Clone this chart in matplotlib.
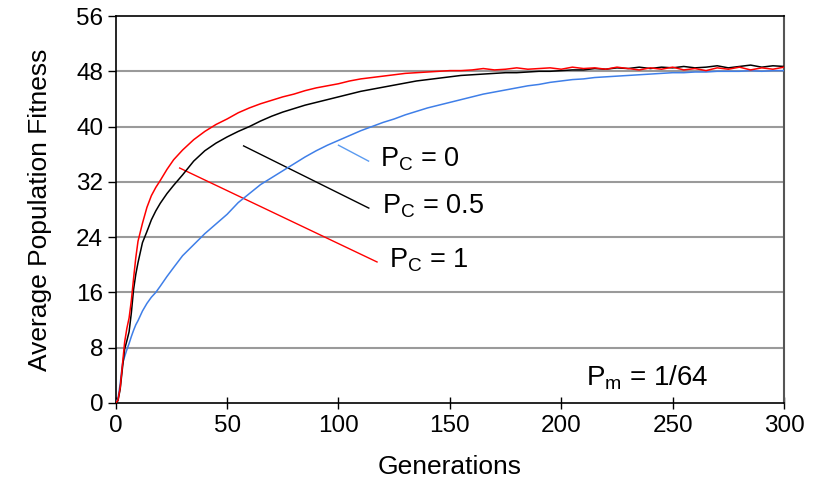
import matplotlib
matplotlib.use("Agg")
import matplotlib.pyplot as plt

plt.rcParams['font.family'] = ['Liberation Sans', 'DejaVu Sans']
plt.rcParams['mathtext.fontset'] = 'custom'
plt.rcParams['mathtext.rm'] = 'Liberation Sans'
plt.rcParams['mathtext.it'] = 'Liberation Sans'

gens = [0, 1, 2, 3, 4, 5, 6, 7, 8, 9, 10, 12, 14, 16, 18, 20, 23, 26, 30, 35, 40, 45,
        50, 55, 60, 65, 70, 75, 80, 85, 90, 95, 100, 105, 110, 115, 120, 125, 130, 135,
        140, 145, 150, 155, 160, 165, 170, 175, 180, 185, 190, 195, 200, 205, 210, 215,
        220, 225, 230, 235, 240, 245, 250, 255, 260, 265, 270, 275, 280, 285, 290, 295, 300]

# crossover probability 1
fit_pc1 = [0, 0.4, 2.2, 5.5, 8.8, 10.8, 12.3, 14.8, 18.0, 21.0, 23.4, 26.0, 28.3, 30.0, 31.2,
           32.2, 33.8, 35.2, 36.6, 38.1, 39.3, 40.3, 41.1, 42.0, 42.7, 43.3, 43.8, 44.3,
           44.7, 45.2, 45.6, 45.9, 46.2, 46.6, 46.9, 47.1, 47.3, 47.5, 47.7, 47.8, 47.9,
           48.0, 48.1, 48.1, 48.2, 48.4, 48.2, 48.3, 48.5, 48.3, 48.4, 48.5, 48.3, 48.6,
           48.4, 48.5, 48.3, 48.6, 48.4, 48.2, 48.5, 48.3, 48.6, 48.2, 48.4, 48.1, 48.5,
           48.3, 48.6, 48.2, 48.5, 48.3, 48.6]

# crossover probability 0.5
fit_pc05 = [0, 0.3, 2.0, 5.0, 7.8, 9.0, 10.3, 13.0, 16.4, 18.6, 20.3, 23.2, 24.8, 26.5, 27.8,
            28.9, 30.3, 31.5, 33.0, 35.0, 36.5, 37.6, 38.5, 39.3, 40.0, 40.8, 41.5, 42.1,
            42.6, 43.1, 43.5, 43.9, 44.3, 44.7, 45.1, 45.4, 45.7, 46.0, 46.3, 46.6, 46.8,
            47.0, 47.2, 47.4, 47.5, 47.6, 47.7, 47.8, 47.8, 47.9, 48.0, 48.0, 48.1, 48.2,
            48.2, 48.4, 48.3, 48.5, 48.4, 48.6, 48.4, 48.6, 48.5, 48.7, 48.5, 48.6, 48.8,
            48.5, 48.7, 48.9, 48.6, 48.8, 48.7]

# no crossover
fit_pc0 = [0, 0.6, 2.8, 5.6, 6.7, 7.7, 8.6, 9.6, 10.5, 11.3, 11.9, 13.3, 14.4, 15.3, 16.0,
           16.9, 18.3, 19.6, 21.3, 22.9, 24.5, 25.9, 27.3, 29.0, 30.3, 31.6, 32.6, 33.6,
           34.6, 35.6, 36.5, 37.3, 38.0, 38.7, 39.4, 40.0, 40.6, 41.1, 41.7, 42.2, 42.7,
           43.1, 43.5, 43.9, 44.3, 44.7, 45.0, 45.3, 45.6, 45.9, 46.1, 46.4, 46.6, 46.8,
           46.9, 47.1, 47.2, 47.3, 47.4, 47.5, 47.6, 47.7, 47.8, 47.8, 47.9, 47.9, 48.0,
           48.0, 48.0, 48.1, 48.0, 48.1, 48.1]

yticks = [0, 8, 16, 24, 32, 40, 48, 56]
xticks = [0, 50, 100, 150, 200, 250, 300]

fig = plt.figure(figsize=(8.15, 4.86), dpi=100)
ax = fig.add_axes([0.142, 0.171, 0.820, 0.796])

for y in yticks[1:-1]:
    ax.axhline(y, color='#9a9a9a', lw=1.5, zorder=1)

ax.plot(gens, fit_pc0, color='#3f7fe8', lw=1.1, zorder=3)
ax.plot(gens, fit_pc05, color='black', lw=1.1, zorder=4)
ax.plot(gens, fit_pc1, color='#ff0000', lw=1.1, zorder=5)

# leader lines and labels
ax.plot([100, 113.5], [37.3, 35.0], color='#5b9bf0', lw=1.0)
ax.plot([57.4, 113.6], [37.2, 28.2], color='black', lw=1.0)
ax.plot([28.7, 117.3], [34.0, 20.4], color='#ff0000', lw=1.0)

ax.text(118.5, 35.3, r'P$_\mathrm{C}$ = 0', fontsize=19.5, va='center', ha='left')
ax.text(119.5, 28.5, r'P$_\mathrm{C}$ = 0.5', fontsize=19.5, va='center', ha='left')
ax.text(122.5, 20.6, r'P$_\mathrm{C}$ = 1', fontsize=19.5, va='center', ha='left')
ax.text(211, 3.6, r'P$_\mathrm{m}$ = 1/64', fontsize=20, va='center', ha='left')

ax.set_xlim(0, 300)
ax.set_ylim(0, 56)
ax.set_xticks(xticks)
ax.set_yticks(yticks)
ax.tick_params(axis='x', direction='inout', length=9, width=1, labelsize=17.5, pad=4)
ax.tick_params(axis='y', direction='out', length=6, width=1, labelsize=17.5, pad=3)

ax.spines['left'].set_linewidth(1.2)
ax.spines['bottom'].set_linewidth(1.2)
ax.spines['top'].set_linewidth(1.2)
ax.spines['right'].set_color('#555555')
ax.spines['right'].set_linewidth(1.5)

ax.set_xlabel('Generations', fontsize=19, labelpad=13)
ax.set_ylabel('Average Population Fitness', fontsize=19, labelpad=17)

fig.savefig('out.png', dpi=100)
